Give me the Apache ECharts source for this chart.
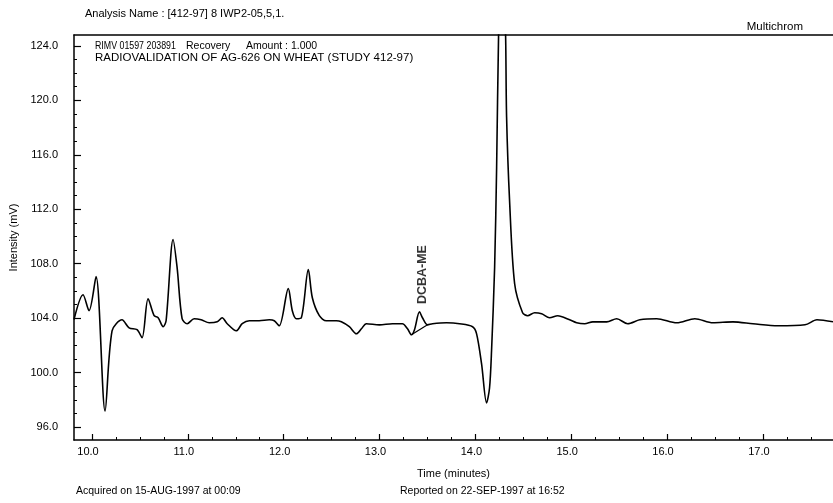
<!DOCTYPE html>
<html>
<head>
<meta charset="utf-8">
<script src="https://cdn.jsdelivr.net/npm/echarts@6/dist/echarts.min.js"></script>
<style>
html,body{margin:0;padding:0;background:#fff;}
#chart{width:833px;height:503px;}
</style>
</head>
<body>
<div id="chart"></div>
<script>
// ---- data ----
const timeMin = [
  9.812, 9.906, 9.969, 10.042, 10.136, 10.209, 10.313, 10.387, 10.470, 10.522,
  10.585, 10.648, 10.690, 10.742, 10.773, 10.846, 10.888, 10.940, 10.993, 11.066,
  11.139, 11.223, 11.306, 11.358, 11.411, 11.505, 11.567, 11.641, 11.745, 11.850,
  11.902, 11.954, 12.048, 12.090, 12.132, 12.184, 12.257, 12.299, 12.372, 12.445,
  12.550, 12.602, 12.685, 12.759, 12.811, 12.863, 12.999, 13.135, 13.239, 13.292,
  13.333, 13.365, 13.417, 13.448, 13.501, 13.553, 13.699, 13.835, 13.971, 14.013,
  14.065, 14.117, 14.148, 14.169, 14.201, 14.222, 14.242, 14.280, 14.316, 14.326,
  14.357, 14.410, 14.493, 14.545, 14.619, 14.692, 14.775, 14.859, 14.984, 15.057,
  15.141, 15.225, 15.371, 15.475, 15.590, 15.716, 15.893, 16.102, 16.290, 16.479,
  16.688, 16.897, 17.158, 17.440, 17.565, 17.732
];
const intensityMV = [
  103.90, 105.72, 104.55, 107.05, 97.18, 103.07, 103.88, 103.29, 103.15, 102.56,
  105.43, 104.18, 104.03, 103.37, 103.81, 109.78, 107.71, 103.96, 103.59, 103.96,
  103.88, 103.66, 103.73, 104.03, 103.59, 103.07, 103.59, 103.81, 103.81, 103.88,
  103.81, 103.44, 106.17, 104.55, 103.96, 104.03, 107.57, 105.50, 104.18, 103.81,
  103.81, 103.73, 103.37, 102.85, 103.22, 103.59, 103.51, 103.59, 103.59, 103.22,
  102.78, 103.15, 104.47, 104.03, 103.51, 103.59, 103.66, 103.59, 103.37, 102.85,
  100.64, 97.77, 98.87, 101.60, 107.71, 115.08, 124.66, 135.00, 124.66, 118.77,
  112.65, 106.53, 104.40, 104.18, 104.40, 104.32, 104.03, 104.18, 103.88, 103.66,
  103.59, 103.73, 103.73, 103.96, 103.59, 103.88, 103.96, 103.66, 103.96, 103.66,
  103.73, 103.59, 103.44, 103.51, 103.88, 103.73
];
// integration baseline drawn under the DCBA-ME peak
const baselineTime = [13.333, 13.501];
const baselineMV = [102.78, 103.51];
// peak label
const peakNames = ['DCBA-ME'];
const peakLabelTime = [13.45];
const peakLabelMV = [107.2];
// axis ticks
const xMajorTicks = [10, 11, 12, 13, 14, 15, 16, 17];
const yMajorTicks = [96, 100, 104, 108, 112, 116, 120, 124];
const xRange = [9.812, 17.732];
const yRange = [95.05, 124.8];

// minor ticks derived from the major ticks
const xMinorTicks = [];
xMajorTicks.forEach(t => { for (let k = 0; k < 4; k++) { const v = t + k * 0.25; if (v <= xRange[1]) xMinorTicks.push(v); } });
const yMinorTicks = [];
yMajorTicks.forEach(t => { for (let k = 0; k < 4; k++) { const v = t + k; if (v <= yRange[1]) yMinorTicks.push(v); } });

const FONT = '"Liberation Sans", Arial, Helvetica, sans-serif';
const chart = echarts.init(document.getElementById('chart'), null, {renderer: 'canvas'});

const lineData = timeMin.map((t, i) => [t, intensityMV[i]]);
const baseData = baselineTime.map((t, i) => [t, baselineMV[i]]);
const labelData = peakLabelTime.map((t, i) => ({value: [t, peakLabelMV[i]], name: peakNames[i]}));

const txt = (x, y, s, size, align, extra) => Object.assign({
  type: 'text', x: x, y: y,
  style: {text: s, fill: '#000', font: size + 'px ' + FONT, textVerticalAlign: 'middle', textAlign: align || 'left'}
}, extra || {});

chart.setOption({
  animation: false,
  backgroundColor: '#fff',
  grid: {left: 74, top: 35, right: 0, bottom: 63, containLabel: false, outerBoundsMode: 'none'},
  xAxis: [
    {
      type: 'value', min: xRange[0], max: xRange[1], position: 'bottom',
      axisLine: {show: true, lineStyle: {color: '#000', width: 1.5}},
      axisTick: {show: true, inside: true, length: 6, customValues: xMajorTicks, lineStyle: {color: '#000', width: 1.2}},
      axisLabel: {show: true, customValues: xMajorTicks, formatter: v => v.toFixed(1), color: '#000',
        fontFamily: FONT, fontSize: 11, margin: 6, padding: [0, 8, 0, 0]},
      splitLine: {show: false},
      name: 'Time (minutes)', nameLocation: 'middle', nameGap: 28,
      nameTextStyle: {color: '#000', fontFamily: FONT, fontSize: 11}
    },
    {
      type: 'value', min: xRange[0], max: xRange[1], position: 'bottom',
      axisLine: {show: false},
      axisTick: {show: true, inside: true, length: 3, customValues: xMinorTicks, lineStyle: {color: '#000', width: 1}},
      axisLabel: {show: false, customValues: xMinorTicks},
      splitLine: {show: false}
    },
    {
      type: 'value', min: xRange[0], max: xRange[1], position: 'top',
      axisLine: {show: true, lineStyle: {color: '#000', width: 1.5}},
      axisTick: {show: false}, axisLabel: {show: false}, splitLine: {show: false}
    }
  ],
  yAxis: [
    {
      type: 'value', min: yRange[0], max: yRange[1], position: 'left',
      axisLine: {show: true, lineStyle: {color: '#000', width: 1.5}},
      axisTick: {show: true, inside: true, length: 7, customValues: yMajorTicks, lineStyle: {color: '#000', width: 1.2}},
      axisLabel: {show: true, customValues: yMajorTicks, formatter: v => v.toFixed(1), color: '#000',
        fontFamily: FONT, fontSize: 11, margin: 16},
      splitLine: {show: false},
      name: 'Intensity (mV)', nameLocation: 'middle', nameGap: 52,
      nameTextStyle: {color: '#000', fontFamily: FONT, fontSize: 11}
    },
    {
      type: 'value', min: yRange[0], max: yRange[1], position: 'left',
      axisLine: {show: false},
      axisTick: {show: true, inside: true, length: 3, customValues: yMinorTicks, lineStyle: {color: '#000', width: 1}},
      axisLabel: {show: false, customValues: yMinorTicks},
      splitLine: {show: false}
    }
  ],
  series: [
    {
      type: 'line', xAxisIndex: 0, yAxisIndex: 0, data: lineData,
      showSymbol: false, symbol: 'none', smooth: 0.3, clip: true,
      lineStyle: {color: '#000', width: 1.6}
    },
    {
      type: 'line', xAxisIndex: 0, yAxisIndex: 0, data: baseData,
      showSymbol: false, symbol: 'none', clip: true,
      lineStyle: {color: '#000', width: 1.2}
    },
    {
      type: 'scatter', xAxisIndex: 0, yAxisIndex: 0, data: labelData,
      symbolSize: 0,
      label: {show: true, position: 'inside', formatter: p => p.name, rotate: 90,
        color: '#000', fontFamily: FONT, fontSize: 12.5, fontWeight: 'bold'}
    }
  ],
  graphic: [
    txt(85, 14, 'Analysis Name : [412-97] 8 IWP2-05,5,1.', 11),
    txt(803, 27, 'Multichrom', 11.5, 'right'),
    txt(95, 46, 'RIMV 01597 203891', 10.5, 'left', {scaleX: 0.84, originX: 0, originY: 0}),
    txt(186, 46, 'Recovery', 10.5),
    txt(246, 46, 'Amount : 1.000', 10.5),
    txt(95, 58, 'RADIOVALIDATION OF AG-626 ON WHEAT (STUDY 412-97)', 11.5),
    txt(76, 491, 'Acquired on 15-AUG-1997 at 00:09', 10.5),
    txt(400, 491, 'Reported on 22-SEP-1997 at 16:52', 10.5)
  ]
});
</script>
</body>
</html>
